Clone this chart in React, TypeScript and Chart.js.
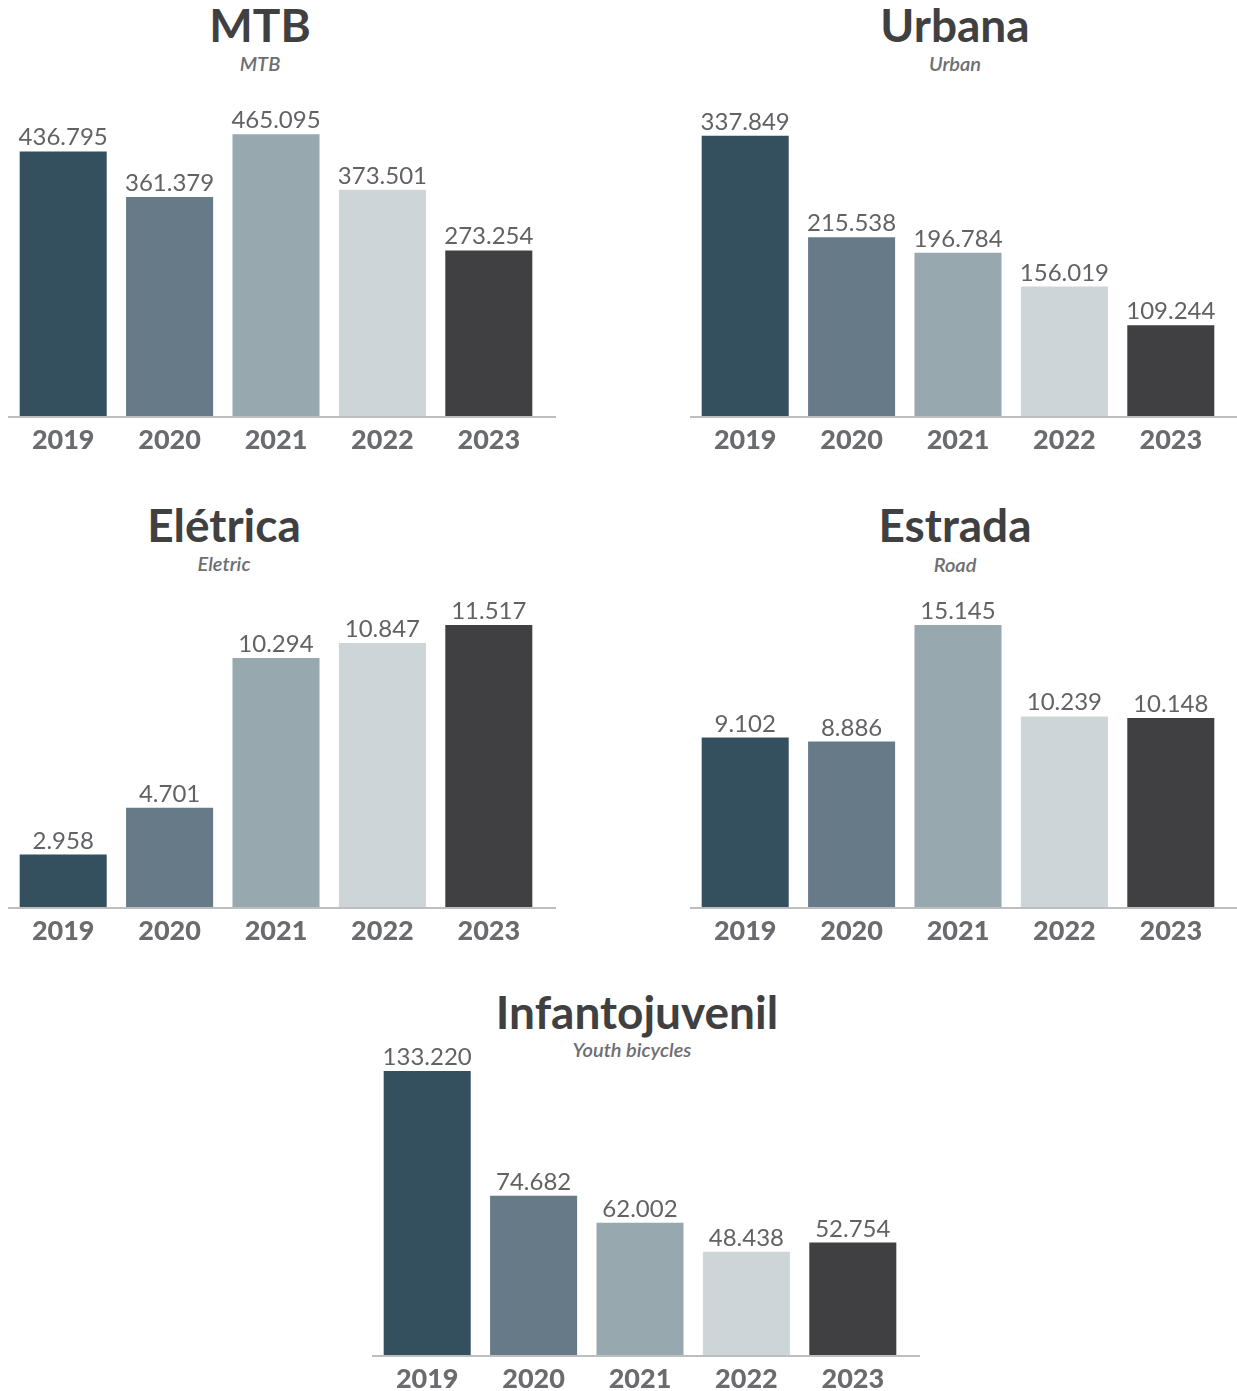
import React, { useEffect, useRef } from "react";
import { Chart, registerables } from "chart.js";

Chart.register(...registerables);

const years = ["2019", "2020", "2021", "2022", "2023"];
const mtbValues = [436795, 361379, 465095, 373501, 273254];
const urbanaValues = [337849, 215538, 196784, 156019, 109244];
const eletricaValues = [2958, 4701, 10294, 10847, 11517];
const estradaValues = [9102, 8886, 15145, 10239, 10148];
const infantoValues = [133220, 74682, 62002, 48438, 52754];
const barColors = ["#34505f", "#667a87", "#98a8af", "#cdd5d8", "#404042"];

const fmt = (v: number) => String(v).replace(/\B(?=(\d{3})+(?!\d))/g, ".");

type Panel = {
  title: string;
  subtitle: string;
  values: number[];
  yMin: number;
  yMax: number;
  left: number;
  axisY: number;
  titleX: number;
  titleBase: number;
  subX: number;
  subBase: number;
};

const panels: Panel[] = [
  { title: "MTB", subtitle: "MTB", values: mtbValues, yMin: 0, yMax: 515000, left: 8, axisY: 416, titleX: 260, titleBase: 43, subX: 260, subBase: 71 },
  { title: "Urbana", subtitle: "Urban", values: urbanaValues, yMin: 0, yMax: 376000, left: 690, axisY: 416, titleX: 955, titleBase: 43, subX: 955, subBase: 71 },
  { title: "Elétrica", subtitle: "Eletric", values: eletricaValues, yMin: 1000, yMax: 12640, left: 8, axisY: 907, titleX: 224, titleBase: 543, subX: 224, subBase: 571 },
  { title: "Estrada", subtitle: "Road", values: estradaValues, yMin: 0, yMax: 16760, left: 690, axisY: 907, titleX: 955, titleBase: 543, subX: 955, subBase: 572 },
  { title: "Infantojuvenil", subtitle: "Youth bicycles", values: infantoValues, yMin: 0, yMax: 146400, left: 372, axisY: 1355, titleX: 637, titleBase: 1030, subX: 632, subBase: 1057 },
];

const CANVAS_W = 548;
const ABOVE = 330;
const BELOW = 36;

const valueLabels = {
  id: "valueLabels",
  afterDatasetsDraw(chart: any) {
    const ctx = chart.ctx;
    const meta = chart.getDatasetMeta(0);
    const data = chart.data.datasets[0].data as number[];
    ctx.save();
    ctx.font = "400 24px Lato";
    ctx.fillStyle = "#616265";
    ctx.textAlign = "center";
    ctx.textBaseline = "alphabetic";
    meta.data.forEach((bar: any, i: number) => {
      ctx.fillText(fmt(data[i]), bar.x, bar.y - 6);
    });
    ctx.restore();
  },
};

const baseline = {
  id: "baseline",
  afterDatasetsDraw(chart: any) {
    const ctx = chart.ctx;
    const y = chart.chartArea.bottom + 1;
    ctx.save();
    ctx.strokeStyle = "#bcbec0";
    ctx.lineWidth = 2;
    ctx.beginPath();
    ctx.moveTo(0, y);
    ctx.lineTo(chart.width, y);
    ctx.stroke();
    ctx.restore();
  },
};

function BarPanel({ p }: { p: Panel }) {
  const ref = useRef<HTMLCanvasElement>(null);
  useEffect(() => {
    if (!ref.current) return;
    const chart = new Chart(ref.current, {
      type: "bar",
      data: {
        labels: years,
        datasets: [
          {
            data: p.values,
            backgroundColor: barColors,
            borderWidth: 0,
            barPercentage: 0.818,
            categoryPercentage: 1,
          },
        ],
      },
      options: {
        responsive: false,
        animation: false,
        layout: { padding: { left: 2, right: 14, top: ABOVE - 312, bottom: 0 } },
        plugins: { legend: { display: false }, tooltip: { enabled: false }, title: { display: false } },
        scales: {
          x: {
            grid: { display: false },
            border: { display: false },
            ticks: {
              color: "#6a6b6e",
              padding: 0,
              font: { family: "Lato", size: 27, weight: "900" },
            },
            afterFit: (scale: any) => {
              scale.height = BELOW;
            },
          },
          y: { display: false, min: p.yMin, max: p.yMax },
        },
      },
      plugins: [valueLabels, baseline],
    });
    return () => chart.destroy();
  }, [p]);
  return (
    <canvas
      ref={ref}
      width={CANVAS_W}
      height={ABOVE + BELOW}
      style={{ position: "absolute", left: p.left, top: p.axisY - ABOVE, width: CANVAS_W, height: ABOVE + BELOW }}
    />
  );
}

export default function App() {
  return (
    <div style={{ position: "absolute", left: 0, top: 0, width: 1237, height: 1391, background: "#fff", overflow: "hidden", fontFamily: "Lato, sans-serif" }}>
      {panels.map((p, i) => (
        <React.Fragment key={i}>
          <div
            style={{
              position: "absolute",
              left: p.titleX - 250,
              width: 500,
              top: p.titleBase - 0.887 * 46,
              fontSize: 46,
              lineHeight: "46px",
              fontWeight: 700,
              color: "#404041",
              textAlign: "center",
            }}
          >
            {p.title}
          </div>
          <div
            style={{
              position: "absolute",
              left: p.subX - 150,
              width: 300,
              top: p.subBase - 0.887 * 20,
              fontSize: 20,
              lineHeight: "20px",
              fontWeight: 600,
              fontStyle: "italic",
              color: "#6d6e71",
              textAlign: "center",
            }}
          >
            {p.subtitle}
          </div>
          <BarPanel p={p} />
        </React.Fragment>
      ))}
    </div>
  );
}
